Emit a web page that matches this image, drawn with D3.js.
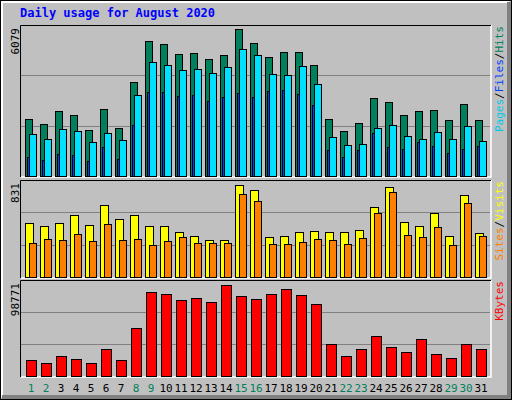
<!DOCTYPE html>
<html><head><meta charset="utf-8">
<script src="https://cdn.jsdelivr.net/npm/d3@7"></script>
<style>body{margin:0;background:#fff}svg{display:block}</style>
</head><body>
<script>
// daily usage, august 2020
var days = d3.range(1, 32);
var weekendDays = [1, 2, 8, 9, 15, 16, 22, 23, 29, 30];
var hits = [2365,2159,2695,2530,1911,2778,1994,3891,5583,5473,5046,5101,4840,5005,6079,5500,4923,5129,5129,4593,2365,1870,2200,3231,3066,2530,2695,2736,2324,2984,2324];
var files = [1746,1540,1953,1870,1416,1788,1499,3355,4716,4593,4386,4428,4263,4510,5253,5005,4221,4180,4551,3809,1623,1293,1334,1994,2118,1664,1540,1829,1540,2076,1458];
var pages = [798,674,921,880,633,1210,715,2118,3479,3479,3314,3355,3108,3273,3438,3273,3520,3561,3396,2943,1086,798,1086,1788,1210,1128,1416,1251,963,1128,1251];
var visits = [488,461,488,560,470,650,524,560,461,461,406,370,334,334,831,786,361,370,406,416,406,406,425,632,813,497,461,578,370,741,397];
var sites = [307,343,334,388,325,479,334,343,289,325,361,307,307,307,750,687,298,298,316,343,334,298,352,578,768,379,361,452,289,668,370];
var kbytes = [17665,14420,21990,18746,14420,29561,17665,52273,91207,89044,82555,84718,80392,98771,86881,83636,89044,94451,87962,78229,34969,21990,29561,43621,31724,26317,40376,24154,19828,34969,29561];

var W = 512, H = 400;
var svg = d3.select("body").append("svg").attr("width", W).attr("height", H)
	.style("font-family", "'DejaVu Sans Mono', monospace");

// frame with bevel
svg.append("rect").attr("width", W).attr("height", H).attr("fill", "#c0c0c0");
svg.append("rect").attr("x", 0.5).attr("y", 0.5).attr("width", W - 1).attr("height", H - 1)
	.attr("fill", "none").attr("stroke", "#000");
svg.append("path").attr("d", "M2,397V2H509").attr("fill", "none").attr("stroke", "#fff").attr("stroke-width", 2);
svg.append("path").attr("d", "M509,2V397H2").attr("fill", "none").attr("stroke", "#808080").attr("stroke-width", 4);

svg.append("text").attr("x", 20).attr("y", 17).attr("fill", "#0000ff")
	.style("font-size", "12px").style("font-weight", "bold")
	.text("Daily usage for August 2020");

var x = d3.scaleLinear().domain([1, 32]).range([25, 490]);

function panel(top, bottom, maxVal, maxLabel, legend) {
	svg.append("rect").attr("x", 20.5).attr("y", top + 0.5)
		.attr("width", 470).attr("height", bottom - top).attr("fill", "#c0c0c0");
	svg.append("path").attr("d", "M21," + (bottom + 1) + "H491V" + top).attr("fill", "none").attr("stroke", "#fff").attr("stroke-width", 1.5);
	svg.append("path").attr("d", "M20.5," + (bottom + 1) + "V" + (top + 0.5) + "H491").attr("fill", "none").attr("stroke", "#000");
	var y = d3.scaleLinear().domain([0, maxVal]).range([bottom, top + 1]);
	[1, 2].forEach(function(i) {
		var gy = Math.round(bottom - (bottom - top) * i / 3) + 0.5;
		svg.append("line").attr("x1", 21).attr("x2", 490).attr("y1", gy).attr("y2", gy)
			.attr("stroke", "#808080");
	});
	svg.append("text").attr("transform", "translate(19," + (top + 3) + ") rotate(-90)")
		.attr("text-anchor", "end").style("font-size", "11px").attr("fill", "#000").text(maxLabel);
	var lt = svg.append("text").attr("transform", "translate(503," + (top + 1) + ") rotate(-90)")
		.attr("text-anchor", "end").style("font-size", "11px");
	legend.forEach(function(l, i) {
		if (i) lt.append("tspan").attr("fill", "#000").text("/");
		lt.append("tspan").attr("fill", l[1]).text(l[0]);
	});
	return y;
}

function bars(y, data, dx, w, color) {
	svg.append("g").selectAll("rect").data(data).enter().append("rect")
		.attr("x", function(d, i) { return x(days[i]) + dx + 0.5; })
		.attr("y", function(d) { return Math.round(y(d)) + 0.5; })
		.attr("width", w)
		.attr("height", function(d) { return y.range()[0] - Math.round(y(d)); })
		.attr("fill", color).attr("stroke", "#000");
}

var yTop = panel(25, 176, 6216, "6079", [["Pages", "#00c8e8"], ["Files", "#0040ff"], ["Hits", "#00805c"]]);
bars(yTop, hits, 0, 7, "#00805c");
bars(yTop, files, 4, 7, "#00e0ff");
bars(yTop, pages, 2, 2, "#0040ff");

var yMid = panel(180, 277, 864, "831", [["Sites", "#ff8000"], ["Visits", "#ffff00"]]);
bars(yMid, visits, 0, 8, "#ffff00");
bars(yMid, sites, 4, 7, "#ff8000");

var yBot = panel(280, 376, 103100, "98771", [["KBytes", "#ff0000"]]);
bars(yBot, kbytes, 1, 10, "#ff0000");

svg.append("g").selectAll("text").data(days).enter().append("text")
	.attr("x", function(d) { return x(d) + 6; }).attr("y", 392)
	.attr("text-anchor", "middle").style("font-size", "11px")
	.attr("fill", function(d) { return weekendDays.indexOf(d) >= 0 ? "#00805c" : "#000"; })
	.text(function(d) { return d; });
</script>
</body></html>
